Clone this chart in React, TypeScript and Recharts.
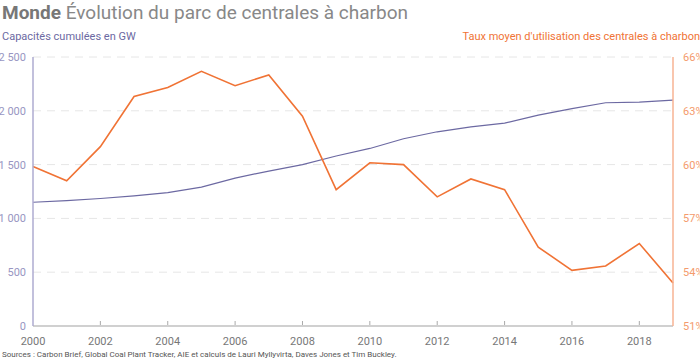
import { LineChart, Line, XAxis, YAxis, CartesianGrid } from 'recharts';

const years = [2000, 2001, 2002, 2003, 2004, 2005, 2006, 2007, 2008, 2009, 2010, 2011, 2012, 2013, 2014, 2015, 2016, 2017, 2018, 2019];
const capacity = [1150, 1165, 1185, 1210, 1240, 1290, 1375, 1440, 1500, 1580, 1650, 1740, 1805, 1850, 1885, 1960, 2020, 2075, 2080, 2100];
const utilisation = [59.9, 59.1, 61.0, 63.8, 64.3, 65.2, 64.4, 65.0, 62.7, 58.6, 60.1, 60.0, 58.2, 59.2, 58.6, 55.4, 54.1, 54.35, 55.6, 53.4];
const xTicks = [2000, 2002, 2004, 2006, 2008, 2010, 2012, 2014, 2016, 2018];
const leftTicks = [0, 500, 1000, 1500, 2000, 2500];
const rightTicks = [51, 54, 57, 60, 63, 66];

const data = years.map((y, i) => ({ year: y, cap: capacity[i], util: utilisation[i] }));

const PURPLE = '#6c69a2';
const ORANGE = '#f07335';
const font = 'Roboto, "Noto Sans", sans-serif';

const fmtThousands = (v: number) => String(v).replace(/\B(?=(\d{3})+(?!\d))/g, ' ');

// recharts hands the label point (axis + tickSize + tickMargin), so step back 8px to the axis
const XTick = (props: any) => {
  const { x, y, payload } = props;
  const axisY = y - 8;
  return (
    <g>
      {payload.value !== 2000 && <line x1={x} x2={x} y1={axisY - 5} y2={axisY - 1} stroke="#aaa" strokeWidth={1} />}
      <text x={x} y={axisY + 19} textAnchor="middle" fill="#777" fontSize={11} fontFamily={font}>
        {payload.value}
      </text>
    </g>
  );
};

const LeftTick = (props: any) => {
  const { y, payload } = props;
  return (
    <text x={26} y={y + 4} textAnchor="end" fill="#9896c2" fontSize={11} fontFamily={font}>
      {fmtThousands(payload.value)}
    </text>
  );
};

const RightTick = (props: any) => {
  const { y, payload } = props;
  return (
    <text x={683} y={y + 4} textAnchor="start" fill="#f49b6c" fontSize={11} fontFamily={font}>
      {payload.value}%
    </text>
  );
};

export default function App() {
  return (
    <div style={{ position: 'absolute', left: 0, top: 0, width: 700, height: 363, overflow: 'hidden', background: '#fff', fontFamily: font }}>
      <div style={{ position: 'absolute', left: 2, top: 1, fontSize: 19, color: '#888', whiteSpace: 'nowrap' }}>
        <span style={{ fontWeight: 700, color: '#777' }}>Monde</span> Évolution du parc de centrales à charbon
      </div>
      <div style={{ position: 'absolute', left: 2, top: 30, fontSize: 11, color: PURPLE }}>Capacités cumulées en GW</div>
      <div style={{ position: 'absolute', right: 0, top: 30, fontSize: 11, color: ORANGE, whiteSpace: 'nowrap' }}>
        Taux moyen d'utilisation des centrales à charbon
      </div>
      <div style={{ position: 'absolute', left: 2, top: 350, fontSize: 8, color: '#555', whiteSpace: 'nowrap' }}>
        Sources : Carbon Brief, Global Coal Plant Tracker, AIE et calculs de Lauri Myllyvirta, Daves Jones et Tim Buckley.
      </div>
      <div style={{ position: 'absolute', left: 0, top: 0 }}>
        <LineChart width={700} height={363} data={data} margin={{ top: 57, right: 0, left: 0, bottom: 0 }}>
          <CartesianGrid vertical={false} stroke="#e6e6e6" strokeDasharray="8 6" yAxisId="left" />
          <XAxis
            dataKey="year"
            type="number"
            domain={[2000, 2019]}
            ticks={xTicks}
            tick={<XTick />}
            tickLine={false}
            axisLine={{ stroke: '#d0d0d0', strokeWidth: 2 }}
            height={37}
            interval={0}
          />
          <YAxis
            yAxisId="left"
            domain={[0, 2500]}
            ticks={leftTicks}
            width={33}
            tickLine={false}
            tick={<LeftTick />}
            axisLine={{ stroke: '#aeabd0', strokeWidth: 1.5 }}
          />
          <YAxis
            yAxisId="right"
            orientation="right"
            domain={[51, 66]}
            ticks={rightTicks}
            width={27}
            tickLine={false}
            tick={<RightTick />}
            axisLine={{ stroke: '#f7b393', strokeWidth: 1.5 }}
          />
          <Line yAxisId="left" type="linear" dataKey="cap" stroke={PURPLE} strokeWidth={1.2} dot={false} isAnimationActive={false} />
          <Line yAxisId="right" type="linear" dataKey="util" stroke={ORANGE} strokeWidth={1.6} dot={false} isAnimationActive={false} />
        </LineChart>
      </div>
    </div>
  );
}
